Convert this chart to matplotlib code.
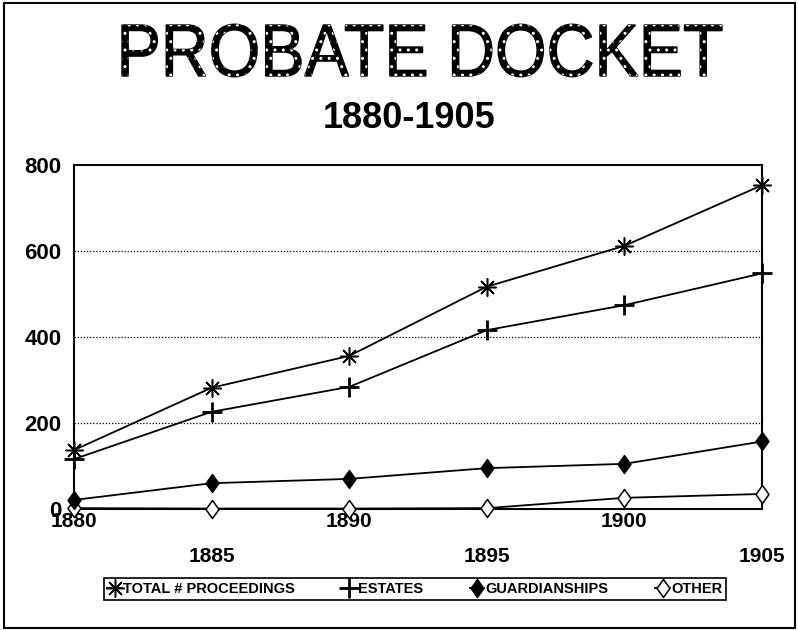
import numpy as np
import matplotlib
matplotlib.use("Agg")
from matplotlib import pyplot as plt
from matplotlib.path import Path
from matplotlib.textpath import TextPath
from matplotlib.patches import PathPatch, Rectangle
from matplotlib.font_manager import FontProperties
from matplotlib.transforms import Affine2D, IdentityTransform

# Probate docket counts
years = [1880, 1885, 1890, 1895, 1900, 1905]
total = [137, 282, 356, 517, 612, 753]
estates = [116, 226, 284, 416, 474, 548]
guardianships = [21, 60, 70, 95, 105, 157]
other = [2, 1, 1, 2, 26, 35]

series_names = ["TOTAL # PROCEEDINGS", "ESTATES", "GUARDIANSHIPS", "OTHER"]
yticks = [0, 200, 400, 600, 800]

plt.rcParams["font.family"] = ["Liberation Sans", "DejaVu Sans"]

W, H = 798, 631
fig = plt.figure(figsize=(W / 100, H / 100), dpi=100)
ax = fig.add_axes([74 / W, 1 - 509 / H, 688 / W, 344 / H])

# tall diamond marker
diamond = Path([(0, 1), (0.72, 0), (0, -1), (-0.72, 0), (0, 1)],
               [Path.MOVETO, Path.LINETO, Path.LINETO, Path.LINETO, Path.CLOSEPOLY])

ax.plot(years, other, color="black", lw=1.3, marker=diamond, ms=13,
        mfc="white", mec="black", mew=1.1, label=series_names[3], zorder=3, clip_on=False)
ax.plot(years, guardianships, color="black", lw=1.3, marker=diamond, ms=13,
        mfc="black", mec="black", label=series_names[2], zorder=3, clip_on=False)
ax.plot(years, estates, color="black", lw=1.3, marker="+", ms=14, mew=2,
        label=series_names[1], zorder=3, clip_on=False)
ax.plot(years, total, color="black", lw=1.3, marker=(8, 2, 0), ms=13, mew=1.1,
        label=series_names[0], zorder=3, clip_on=False)

ax.set_xlim(1880, 1905)
ax.set_ylim(0, 800)
ax.set_yticks(yticks)
ax.set_yticklabels([str(v) for v in yticks], fontsize=16, fontweight="bold")
for v in yticks[1:-1]:
    ax.axhline(v, color="black", lw=0.9, ls=(0, (1, 1.5)), zorder=1)

# alternating two-row year labels
ax.set_xticks(years[0::2])
ax.set_xticklabels([str(y) for y in years[0::2]], fontsize=15, fontweight="bold")
ax.set_xticks(years[1::2], minor=True)
ax.set_xticklabels([str(y) for y in years[1::2]], minor=True, fontsize=15,
                   fontweight="bold")
ax.tick_params(axis="x", which="major", length=0, pad=2)
ax.tick_params(axis="x", which="minor", length=0, pad=27)
ax.tick_params(axis="y", length=0, pad=9)
for s in ax.spines.values():
    s.set_linewidth(1.5)

# legend in reverse plotting order
h, l = ax.get_legend_handles_labels()
leg = fig.legend(h[::-1], l[::-1], loc="center", ncol=4,
                 bbox_to_anchor=(415 / W, 1 - 589 / H), bbox_transform=fig.transFigure,
                 prop=FontProperties(family=["Liberation Sans Narrow", "Liberation Sans"],
                                     weight="bold", size=10.5),
                 handlelength=1.0, handletextpad=0.1, columnspacing=3.2,
                 borderpad=0.25, fancybox=False, framealpha=1, edgecolor="black")
leg.get_frame().set_linewidth(1.2)

# big textured title
fp = FontProperties(family="Liberation Sans")
tp = TextPath((0, 0), "PROBATE DOCKET", size=100, prop=fp)
ext = tp.get_extents()
cap = TextPath((0, 0), "E", size=100, prop=fp).get_extents().height
sx = 600 / ext.width
sy = 51 / cap
tr = Affine2D().translate(-ext.x0, 0).scale(sx, sy).translate(122, H - 76)
title_path = tr.transform_path(tp)
fig.patches.append(PathPatch(title_path, facecolor="black", edgecolor="black", lw=1,
                             transform=IdentityTransform(), figure=fig))
plt.rcParams["hatch.linewidth"] = 1.0
fig.patches.append(PathPatch(title_path, facecolor="none", edgecolor="white", lw=0,
                             hatch="..", transform=IdentityTransform(), figure=fig))

fig.text(409 / W, 1 - 128 / H, "1880-1905", ha="center", va="baseline",
         fontsize=26, fontweight="bold")

# outer frame
fig.patches.append(Rectangle((4 / W, 3 / H), 791 / W, 625 / H, transform=fig.transFigure,
                             fill=False, edgecolor="black", lw=1.5, figure=fig))

fig.savefig("out.png", dpi=100)
